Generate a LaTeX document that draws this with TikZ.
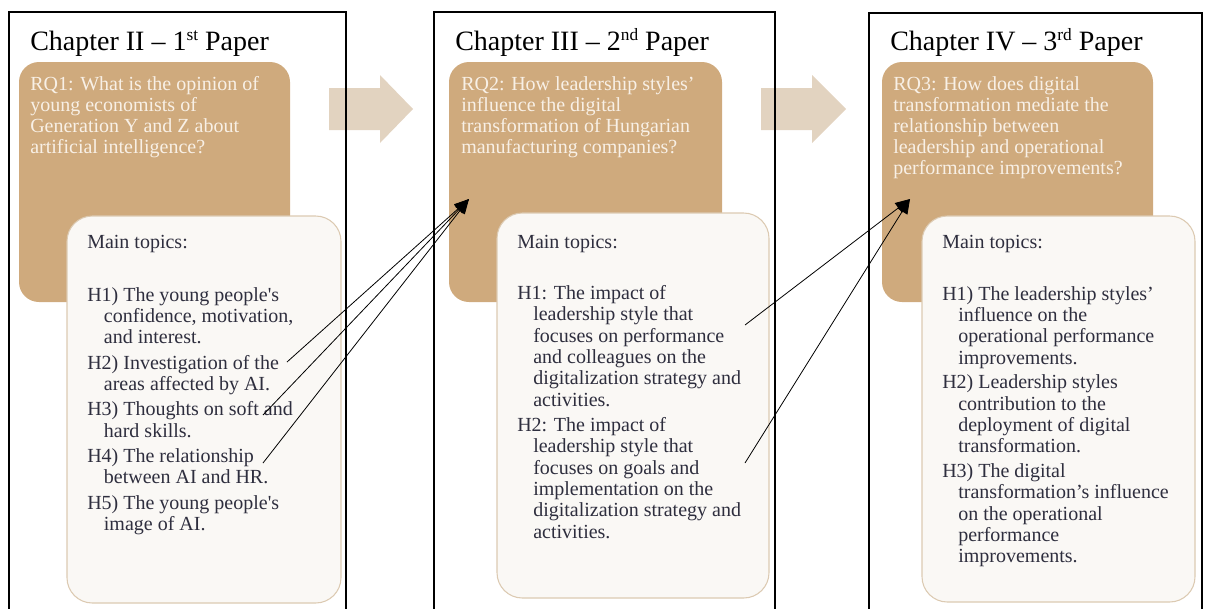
\documentclass[tikz,border=0pt]{standalone}
\usepackage{fontspec}
\setmainfont{Liberation Serif}
\usetikzlibrary{arrows.meta}
\definecolor{rqbrown}{RGB}{207,170,125}
\definecolor{flowtan}{RGB}{226,211,192}
\definecolor{topicfill}{RGB}{250,248,245}
\definecolor{topicline}{RGB}{220,202,178}
\definecolor{topictext}{RGB}{46,46,62}
\definecolor{rqtext}{RGB}{248,240,230}
\newcommand{\ordsup}[1]{\raisebox{7.5pt}{\fontsize{13}{13}\selectfont #1}}

\begin{document}
\begin{tikzpicture}[x=0.75pt,y=-0.75pt,
  chapter/.style={anchor=base west,inner sep=0pt,font=\fontsize{21}{24}\selectfont},
  rq/.style={anchor=north west,inner sep=0pt,align=left,text=rqtext,font=\fontsize{15}{15.9}\selectfont},
  topics/.style={anchor=north west,inner sep=0pt,align=left,text=topictext,font=\fontsize{15}{16}\selectfont},
  rqbox/.style={fill=rqbrown,rounded corners=15pt},
  topicbox/.style={fill=topicfill,draw=topicline,line width=0.8pt,rounded corners=19pt},
  flow/.style={fill=flowtan},
  link/.style={-{Triangle[length=11pt,width=9pt]},line width=0.6pt}]

\useasboundingbox (0,0) rectangle (1205,608);

% flow arrows between the papers
\fill[flow] (329,88) -- (380,88) -- (380,75) -- (413,109) -- (380,143) -- (380,130) -- (329,130) -- cycle;
\fill[flow] (761,88) -- (812,88) -- (812,75) -- (846,109) -- (812,143) -- (812,130) -- (761,130) -- cycle;

% paper frames (open at the bottom)
\draw[line width=0.9pt] (9,620) -- (9,12) -- (346,12) -- (346,620);
\draw[line width=0.9pt] (434,620) -- (434,12) -- (775,12) -- (775,620);
\draw[line width=0.9pt] (869,620) -- (869,13) -- (1202,13) -- (1202,620);

% research question boxes
\fill[rqbox] (19,62) rectangle (290,302);
\fill[rqbox] (449,62) rectangle (722,302);
\fill[rqbox] (882,62) rectangle (1153,302);

% topic boxes
\draw[topicbox] (67,216) rectangle (341,603);
\draw[topicbox] (497,213) rectangle (769,598);
\draw[topicbox] (922,216) rectangle (1195,602);

% chapter 2
\node[chapter] (ch2) at (30,50) {Chapter II -- 1\ordsup{st} Paper};
\node[rq] (rq1) at (30,76) {RQ1: What is the opinion of\\young economists of\\Generation Y and Z about\\artificial intelligence?};
\node[topics,anchor=base west] (mt1) at (87,248) {Main topics:};
\node[topics] (hy1) at (87,287) {H1) The young people\textquotesingle s\\
\hspace*{12.5pt}confidence, motivation,\\
\hspace*{12.5pt}and interest.\\[3pt]
H2) Investigation of the\\
\hspace*{12.5pt}areas affected by AI.\\[3pt]
H3) Thoughts on soft and\\
\hspace*{12.5pt}hard skills.\\[3pt]
H4) The relationship\\
\hspace*{12.5pt}between AI and HR.\\[3pt]
H5) The young people\textquotesingle s\\
\hspace*{12.5pt}image of AI.};

% chapter 3
\node[chapter] (ch3) at (455,50) {Chapter III -- 2\ordsup{nd} Paper};
\node[rq] (rq2) at (461,76) {RQ2: How leadership styles’\\influence the digital\\transformation of Hungarian\\manufacturing companies?};
\node[topics,anchor=base west] (mt2) at (517,248) {Main topics:};
\node[topics] (hy2) at (517,285) {H1: The impact of\\
\hspace*{12pt}leadership style that\\
\hspace*{12pt}focuses on performance\\
\hspace*{12pt}and colleagues on the\\
\hspace*{12pt}digitalization strategy and\\
\hspace*{12pt}activities.\\[3pt]
H2: The impact of\\
\hspace*{12pt}leadership style that\\
\hspace*{12pt}focuses on goals and\\
\hspace*{12pt}implementation on the\\
\hspace*{12pt}digitalization strategy and\\
\hspace*{12pt}activities.};

% chapter 4
\node[chapter] (ch4) at (890,50) {Chapter IV -- 3\ordsup{rd} Paper};
\node[rq] (rq3) at (893,76) {RQ3: How does digital\\transformation mediate the\\relationship between\\leadership and operational\\performance improvements?};
\node[topics,anchor=base west] (mt3) at (942,248) {Main topics:};
\node[topics] (hy3) at (942,286) {H1) The leadership styles’\\
\hspace*{12pt}influence on the\\
\hspace*{12pt}operational performance\\
\hspace*{12pt}improvements.\\[2.5pt]
H2) Leadership styles\\
\hspace*{12pt}contribution to the\\
\hspace*{12pt}deployment of digital\\
\hspace*{12pt}transformation.\\[2.5pt]
H3) The digital\\
\hspace*{12pt}transformation’s influence\\
\hspace*{12pt}on the operational\\
\hspace*{12pt}performance\\
\hspace*{12pt}improvements.};

% links from hypotheses to the next question
\coordinate (p1h2) at (287,362);
\coordinate (p1h3) at (263,415);
\coordinate (p1h4) at (263,463);
\coordinate (rq2tip) at (469,199);
\coordinate (p2h1) at (745,325);
\coordinate (p2h2) at (745,463);
\coordinate (rq3tip) at (910,199);

\draw[link] (p1h2) -- (rq2tip);
\draw[link] (p1h3) -- (rq2tip);
\draw[link] (p1h4) -- (rq2tip);
\draw[link] (p2h1) -- (rq3tip);
\draw[link] (p2h2) -- (rq3tip);
\end{tikzpicture}
\end{document}
